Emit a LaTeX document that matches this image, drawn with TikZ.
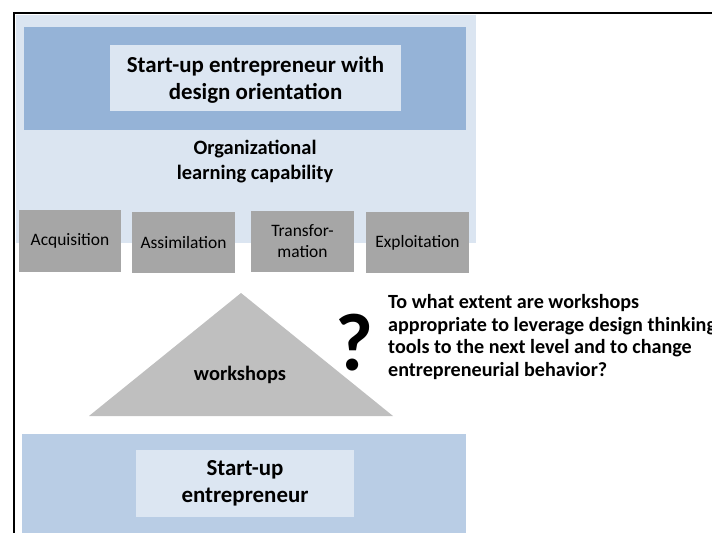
\documentclass[tikz,border=0pt]{standalone}
\usepackage{fontspec}
\setmainfont{Carlito}
\definecolor{paleblue}{HTML}{DBE5F1}
\definecolor{midblue}{HTML}{95B3D7}
\definecolor{softblue}{HTML}{B9CDE5}
\definecolor{innerblue}{HTML}{DCE6F2}
\definecolor{stepgray}{HTML}{A6A6A6}
\definecolor{trigray}{HTML}{BFBFBF}
\tikzset{
  phasebox/.style={fill=stepgray, draw=none, inner sep=0pt, minimum width=103bp, minimum height=61bp,
    font=\fontsize{17.5}{21}\selectfont, align=center},
  titlefont/.style={font=\bfseries\fontsize{23}{27}\selectfont, align=center},
}
\begin{document}
\begin{tikzpicture}[x=1bp,y=-1bp]
\useasboundingbox (0,0) rectangle (712,533);
% frame lines
\draw[line width=2.2bp] (14,534) -- (14,13) -- (713,13);

% upper organisation panel
\fill[paleblue] (16,15) rectangle (476,243);
\fill[midblue] (24,27) rectangle (466,130);
\node[fill=innerblue, minimum width=291bp, minimum height=66bp, inner sep=0pt] (topbox) at (255.5,78) {};
\node[titlefont] (toptext) at (255.5,80) {Start-up entrepreneur with\\design orientation};
\node[font=\bfseries\fontsize{20.5}{25}\selectfont, align=center] (olc) at (255,162) {Organizational\\learning capability};

% the four phases
\node[phasebox, minimum width=102bp, minimum height=62bp] (acq) at (70,241) {Acquisition};
\node[phasebox] (ass) at (183.5,242.5) {Assimilation};
\node[phasebox] (tra) at (302.5,241.5) {Transfor-\\mation};
\node[phasebox] (exp) at (417.5,242.5) {Exploitation};

% workshops triangle
\coordinate (apex) at (241,293);
\coordinate (bl) at (89,416);
\coordinate (br) at (393,416);
\fill[trigray] (apex) -- (bl) -- (br) -- cycle;
\node[font=\bfseries\fontsize{20.5}{24}\selectfont] (ws) at (240,375) {workshops};

% question
\node[font=\bfseries\fontsize{82}{82}\selectfont, inner sep=0pt] (qm) at (354,343) {?};
\node[font=\bfseries\fontsize{20.2}{22.7}\selectfont, align=left, anchor=west, inner sep=0pt] (question) at (388,337)
  {To what extent are workshops\\appropriate to leverage design thinking\\tools to the next level and to change\\entrepreneurial behavior?};

% lower panel
\fill[softblue] (22,434) rectangle (466,534);
\node[fill=innerblue, minimum width=218bp, minimum height=67bp, inner sep=0pt] (botbox) at (245,483.5) {};
\node[font=\bfseries\fontsize{23}{27}\selectfont, align=center] (bottext) at (245,483.5) {Start-up\\entrepreneur};
\end{tikzpicture}
\end{document}
